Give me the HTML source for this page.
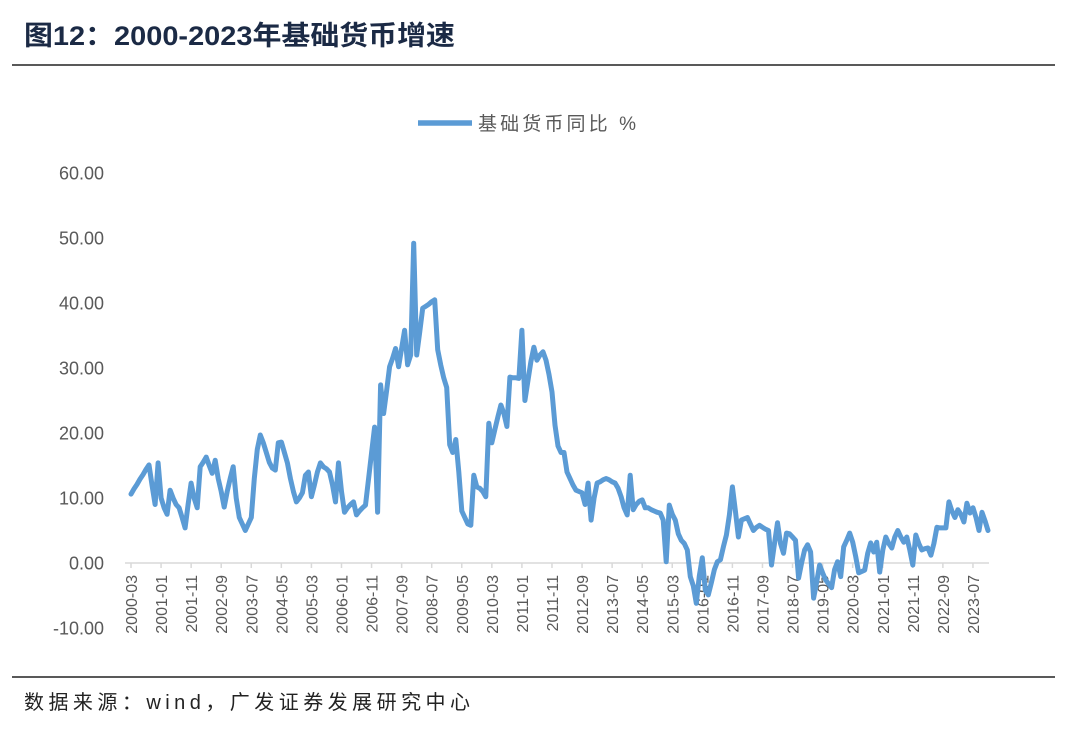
<!DOCTYPE html>
<html><head><meta charset="utf-8"><style>
body{margin:0;background:#fff;width:1080px;height:744px;overflow:hidden;font-family:"Liberation Sans","Noto Sans CJK SC",sans-serif;}
</style></head><body>
<svg width="1080" height="744" xmlns="http://www.w3.org/2000/svg">
<text x="24" y="45" font-size="27" font-weight="bold" fill="#1b2a45" textLength="431" lengthAdjust="spacingAndGlyphs" font-family="Liberation Sans, Noto Sans CJK SC, sans-serif">图12：2000-2023年基础货币增速</text>
<line x1="12" y1="65" x2="1055" y2="65" stroke="#222" stroke-width="1.5"/>
<g>
<line x1="418" y1="123" x2="472" y2="123" stroke="#5b9bd5" stroke-width="5.5"/>
<text x="478" y="130" font-size="19" fill="#595959" textLength="158" lengthAdjust="spacing">基础货币同比 %</text>
</g>
<g id="yaxis"></g>
<g id="xaxis"></g>
<g id="plot"></g>
<line x1="12" y1="677" x2="1055" y2="677" stroke="#222" stroke-width="1.5"/>
<text x="24" y="709" font-size="20" fill="#222" textLength="446" lengthAdjust="spacing">数据来源：wind，广发证券发展研究中心</text>
</svg>
<script>
const startYear = 2000, startMonth = 3;
const yTicks = [-10, 0, 10, 20, 30, 40, 50, 60];
const values = [10.6,11.4,12.1,12.9,13.6,14.4,15.1,12,9,15.4,10,8.5,7.5,11.2,10,9,8.5,7,5.4,9,12.3,10,8.5,14.8,15.5,16.3,15,13.8,15.8,13,11,8.6,11,13,14.8,10,7,6,5,6,7,13,17.5,19.7,18.5,17,15.5,14.6,14.3,18.5,18.6,17,15.4,13,11,9.4,10,10.8,13.5,14,10.2,12,14,15.4,14.8,14.5,14,12,9.4,15.4,11,7.8,8.5,9,9.4,7.4,8,8.5,8.9,13,17,20.9,7.8,27.4,23,26.5,30.2,31.5,33,30.2,33,35.8,30.5,32,49.2,32,35.5,39.2,39.5,39.8,40.2,40.5,32.8,30.5,28.5,27,18.2,17,19,14,8,7,6,5.8,13.5,11.7,11.5,11,10.2,21.5,18.5,20.5,22.5,24.3,23,21,28.6,28.5,28.5,28.4,35.8,25,28,31,33.2,31.2,32,32.5,31.2,29,26.3,21.2,18,17,17,14,13,12,11.2,11,10.8,9,12.3,6.6,10,12.3,12.5,12.8,13,12.8,12.5,12.3,11.5,10.2,8.5,7.4,13.5,8.2,9,9.5,9.7,8.5,8.5,8.2,8,7.8,7.7,6.6,0.2,8.9,7.5,6.6,4.5,3.5,3,2,-2.1,-3.5,-6.2,-2,0.8,-4.2,-4.9,-3,-1,0.2,0.5,2.5,4.3,7.4,11.7,8,4,6.6,6.8,7,6,5,5.5,5.8,5.5,5.2,5,-0.3,3,6.2,3,1.5,4.6,4.5,4,3.5,-2.3,0,2,2.8,1.7,-5.4,-3,-0.3,-1.5,-2.6,-3.2,-3.8,-1,0.2,-2.1,2.5,3.5,4.6,3.2,1,-1.5,-1.3,-1.1,1.5,3.1,1.7,3.2,-1.4,2,4,3,2.3,4,5,4,3.2,4,2,-0.3,4.3,3,2,2.2,2.3,1.2,3,5.5,5.4,5.4,5.4,9.4,8,7,8.2,7.5,6.3,9.2,7.7,8.5,7,5,7.8,6.5,5];
const NS="http://www.w3.org/2000/svg";
const x = i => 131 + i*3.007;
const y = v => 563 - v*6.5;
function mk(t,a,p){const e=document.createElementNS(NS,t);for(const k in a)e.setAttribute(k,a[k]);p.appendChild(e);return e;}
const yg=document.getElementById('yaxis'), xg=document.getElementById('xaxis'), pg=document.getElementById('plot');
yTicks.forEach(t=>{
  const e=mk('text',{x:104,y:y(t)+6.5,'text-anchor':'end','font-size':18,fill:'#595959'},yg);
  
  
  e.textContent=t.toFixed(2);
});
const ax=mk('line',{x1:125,y1:y(0),x2:x(values.length-1)+1,y2:y(0),stroke:'#d9d9d9','stroke-width':1.5},xg);


for(let i=0;i<values.length;i+=10){
  const m0=startMonth-1+i, yr=startYear+Math.floor(m0/12), mo=m0%12+1;
  const lab=yr+'-'+String(mo).padStart(2,'0');
  const tk=mk('line',{x1:x(i),y1:y(0),x2:x(i),y2:y(0)+5,stroke:'#d9d9d9','stroke-width':1.5},xg);
  
  
  const tx=mk('text',{x:0,y:0,'text-anchor':'end','font-size':16,fill:'#595959',transform:`translate(${x(i)+6},${y(0)+12}) rotate(-90)`},xg);
  
  
  tx.textContent=lab;
}
const d=values.map((v,i)=>(i?'L':'M')+x(i).toFixed(1)+','+y(v).toFixed(1)).join(' ');
const ln=mk('path',{d:d,fill:'none',stroke:'#5b9bd5','stroke-width':5,'stroke-linejoin':'round','stroke-linecap':'round'},pg);


</script>
</body></html>
